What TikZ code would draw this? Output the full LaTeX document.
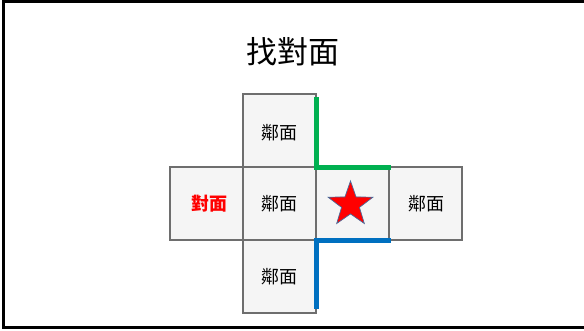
\documentclass[tikz,border=0pt]{standalone}
\usepackage{fontspec}
\newfontfamily\cjk{Noto Sans CJK TC}
\usetikzlibrary{shapes.geometric}
\definecolor{cellfill}{HTML}{F5F5F5}
\definecolor{celldraw}{HTML}{6E6E6E}
\definecolor{edgegreen}{HTML}{00B050}
\definecolor{edgeblue}{HTML}{0070C0}
\definecolor{starline}{HTML}{4A6A9A}
\tikzset{
  cell/.style={draw=celldraw, fill=cellfill, line width=2pt, minimum size=73pt, inner sep=0pt, outer sep=0pt, anchor=north west},
  celltext/.style={font=\cjk\fontsize{18pt}{20pt}\selectfont, text=black},
  edge/.style={line width=5pt},
  frame/.style={line width=3pt, draw=black}
}
\begin{document}
\begin{tikzpicture}[x=1pt, y=-1pt]
\useasboundingbox (0,0) rectangle (584,330);
\fill[white] (0,0) rectangle (584,330);
\draw[frame] (600,1.5) -- (3.2,1.5) -- (3.2,327.6) -- (600,327.6);
\node[font=\cjk\fontsize{31pt}{34pt}\selectfont] (title) at (293,52) {找對面};
% cells
\node[cell] (top) at (243,94) {};
\node[cell] (opp) at (170,167) {};
\node[cell] (mid) at (243,167) {};
\node[cell] (cur) at (316,167) {};
\node[cell] (rgt) at (389,167) {};
\node[cell] (bot) at (243,240) {};
% labels
\node[celltext] (ttop) at ([yshift=-2pt]top.center) {鄰面};
\node[celltext, text=red, font=\cjk\bfseries\fontsize{18pt}{20pt}\selectfont] (topp) at ([xshift=3pt]opp.center) {對面};
\node[celltext] (tmid) at (mid.center) {鄰面};
\node[celltext] (trgt) at ([xshift=1pt]rgt.center) {鄰面};
\node[celltext] (tbot) at (bot.center) {鄰面};
% star
\node[star, star points=5, star point ratio=2.5, fill=red, draw=starline, line width=0.7pt, minimum size=47pt, inner sep=0pt] (st) at (350.5,204.5) {};
% edges
\coordinate (g1) at ([yshift=-3pt]top.north east);
\coordinate (b2) at ([yshift=4pt]bot.south east);
\draw[edge, draw=edgegreen] (g1) -- (cur.north west) -- ([xshift=1.5pt]cur.north east);
\draw[edge, draw=edgeblue] ([xshift=1.5pt]cur.south east) -- (cur.south west) -- (b2);
\end{tikzpicture}
\end{document}
